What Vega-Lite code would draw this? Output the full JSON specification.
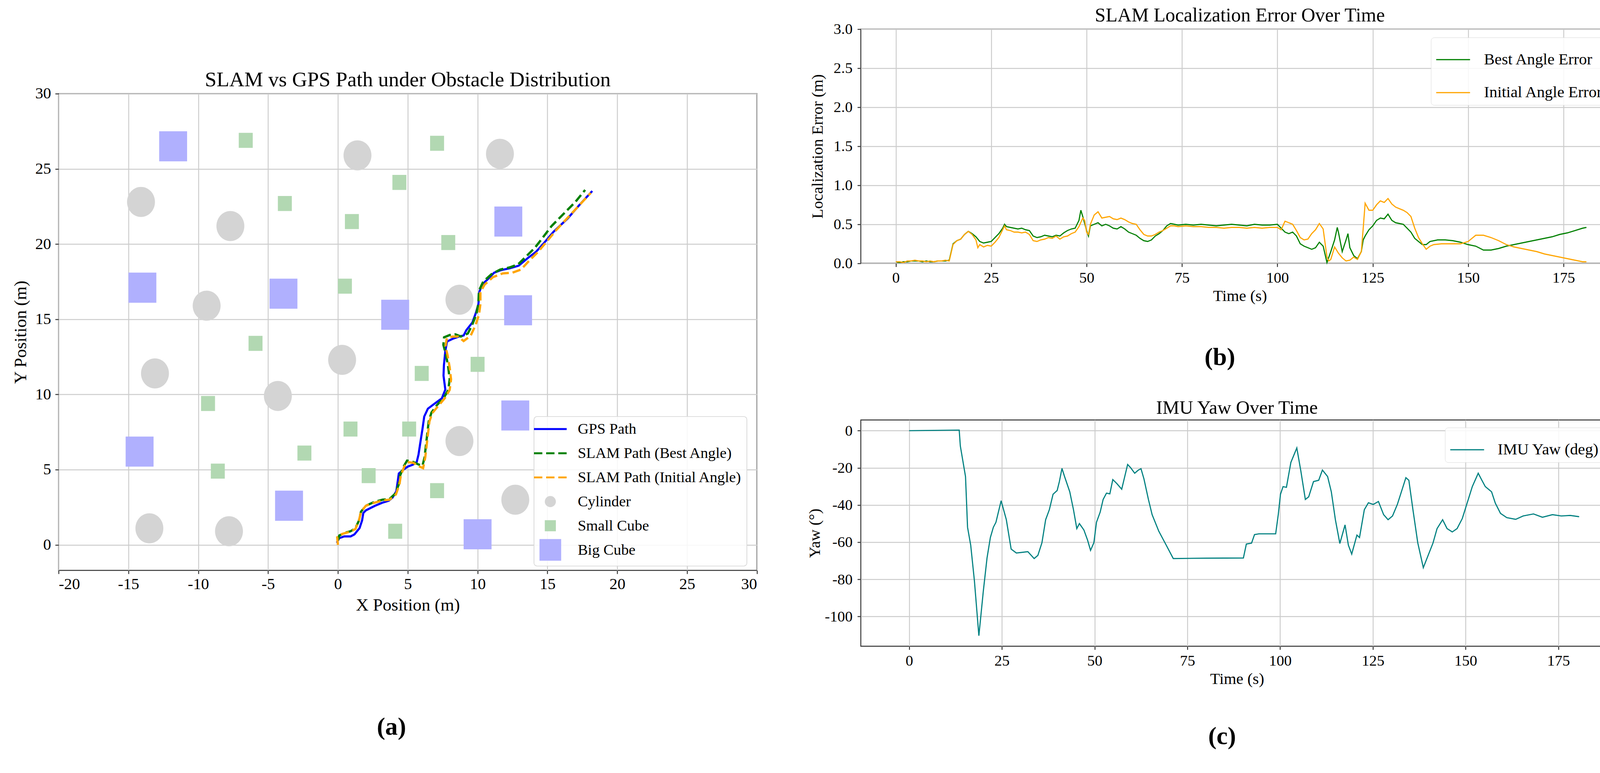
{
  "$schema": "https://vega.github.io/schema/vega-lite/v6.json",
  "padding": {"left": 28, "top": 12.7, "right": 0, "bottom": 0},
  "background": "white",
  "config": {
    "font": "Liberation Serif",
    "view": {"stroke": "#333333", "strokeWidth": 2.4},
    "axis": {"domain": false, "grid": true, "gridColor": "#cccccc", "gridWidth": 2.4, "tickColor": "#333333", "tickSize": 8.8, "tickWidth": 2.4, "labelFont": "Liberation Serif", "labelColor": "#000000", "titleFont": "Liberation Serif", "titleFontWeight": "normal", "titleColor": "#000000", "labelPadding": 12.7},
    "title": {"font": "Liberation Serif", "fontWeight": "normal", "color": "#000000", "anchor": "middle"},
    "legend": {"labelFont": "Liberation Serif", "labelColor": "#000000", "labelLimit": 2000, "fillColor": "rgba(255,255,255,0.85)", "strokeColor": "#d9d9d9", "cornerRadius": 8}
  },
  "resolve": {"scale": {"color": "independent"}, "legend": {"color": "independent"}},
  "spacing": 122.7,
  "datasets": {
    "paths": [
      {"series": "GPS Path", "k": 0, "x": 0.0, "y": 0.1},
      {"series": "GPS Path", "k": 1, "x": -0.05, "y": 0.19},
      {"series": "GPS Path", "k": 2, "x": 0.09, "y": 0.44},
      {"series": "GPS Path", "k": 3, "x": 0.45, "y": 0.56},
      {"series": "GPS Path", "k": 4, "x": 0.91, "y": 0.56},
      {"series": "GPS Path", "k": 5, "x": 1.18, "y": 0.69},
      {"series": "GPS Path", "k": 6, "x": 1.55, "y": 1.11},
      {"series": "GPS Path", "k": 7, "x": 1.73, "y": 1.62},
      {"series": "GPS Path", "k": 8, "x": 1.82, "y": 2.12},
      {"series": "GPS Path", "k": 9, "x": 2.0, "y": 2.29},
      {"series": "GPS Path", "k": 10, "x": 2.64, "y": 2.59},
      {"series": "GPS Path", "k": 11, "x": 3.18, "y": 2.8},
      {"series": "GPS Path", "k": 12, "x": 3.64, "y": 2.93},
      {"series": "GPS Path", "k": 13, "x": 3.91, "y": 3.14},
      {"series": "GPS Path", "k": 14, "x": 4.18, "y": 3.56},
      {"series": "GPS Path", "k": 15, "x": 4.27, "y": 4.15},
      {"series": "GPS Path", "k": 16, "x": 4.36, "y": 4.74},
      {"series": "GPS Path", "k": 17, "x": 4.68, "y": 4.99},
      {"series": "GPS Path", "k": 18, "x": 5.0, "y": 5.2},
      {"series": "GPS Path", "k": 19, "x": 5.36, "y": 5.33},
      {"series": "GPS Path", "k": 20, "x": 5.64, "y": 5.5},
      {"series": "GPS Path", "k": 21, "x": 5.77, "y": 6.0},
      {"series": "GPS Path", "k": 22, "x": 5.91, "y": 6.85},
      {"series": "GPS Path", "k": 23, "x": 6.05, "y": 7.68},
      {"series": "GPS Path", "k": 24, "x": 6.18, "y": 8.53},
      {"series": "GPS Path", "k": 25, "x": 6.44, "y": 9.05},
      {"series": "GPS Path", "k": 26, "x": 6.94, "y": 9.4},
      {"series": "GPS Path", "k": 27, "x": 7.44, "y": 9.74},
      {"series": "GPS Path", "k": 28, "x": 7.69, "y": 10.32},
      {"series": "GPS Path", "k": 29, "x": 7.56, "y": 11.25},
      {"series": "GPS Path", "k": 30, "x": 7.59, "y": 11.95},
      {"series": "GPS Path", "k": 31, "x": 7.69, "y": 12.88},
      {"series": "GPS Path", "k": 32, "x": 7.81, "y": 13.52},
      {"series": "GPS Path", "k": 33, "x": 8.19, "y": 13.69},
      {"series": "GPS Path", "k": 34, "x": 8.69, "y": 13.86},
      {"series": "GPS Path", "k": 35, "x": 9.0, "y": 13.92},
      {"series": "GPS Path", "k": 36, "x": 9.19, "y": 14.27},
      {"series": "GPS Path", "k": 37, "x": 9.63, "y": 14.79},
      {"series": "GPS Path", "k": 38, "x": 9.88, "y": 15.43},
      {"series": "GPS Path", "k": 39, "x": 10.06, "y": 16.01},
      {"series": "GPS Path", "k": 40, "x": 10.13, "y": 16.82},
      {"series": "GPS Path", "k": 41, "x": 10.31, "y": 17.29},
      {"series": "GPS Path", "k": 42, "x": 10.69, "y": 17.63},
      {"series": "GPS Path", "k": 43, "x": 11.19, "y": 18.1},
      {"series": "GPS Path", "k": 44, "x": 11.69, "y": 18.27},
      {"series": "GPS Path", "k": 45, "x": 12.31, "y": 18.39},
      {"series": "GPS Path", "k": 46, "x": 12.94, "y": 18.56},
      {"series": "GPS Path", "k": 47, "x": 13.69, "y": 19.14},
      {"series": "GPS Path", "k": 48, "x": 14.19, "y": 19.49},
      {"series": "GPS Path", "k": 49, "x": 14.69, "y": 20.0},
      {"series": "GPS Path", "k": 50, "x": 15.44, "y": 20.82},
      {"series": "GPS Path", "k": 51, "x": 16.44, "y": 21.69},
      {"series": "GPS Path", "k": 52, "x": 17.31, "y": 22.62},
      {"series": "GPS Path", "k": 53, "x": 18.21, "y": 23.53},
      {"series": "SLAM Path (Best Angle)", "k": 0, "x": 0.0, "y": 0.3},
      {"series": "SLAM Path (Best Angle)", "k": 1, "x": 0.1, "y": 0.62},
      {"series": "SLAM Path (Best Angle)", "k": 2, "x": 0.5, "y": 0.8},
      {"series": "SLAM Path (Best Angle)", "k": 3, "x": 0.9, "y": 0.9},
      {"series": "SLAM Path (Best Angle)", "k": 4, "x": 1.25, "y": 1.1},
      {"series": "SLAM Path (Best Angle)", "k": 5, "x": 1.5, "y": 1.6},
      {"series": "SLAM Path (Best Angle)", "k": 6, "x": 1.65, "y": 2.2},
      {"series": "SLAM Path (Best Angle)", "k": 7, "x": 2.0, "y": 2.6},
      {"series": "SLAM Path (Best Angle)", "k": 8, "x": 2.6, "y": 2.85},
      {"series": "SLAM Path (Best Angle)", "k": 9, "x": 3.2, "y": 3.0},
      {"series": "SLAM Path (Best Angle)", "k": 10, "x": 3.7, "y": 3.05},
      {"series": "SLAM Path (Best Angle)", "k": 11, "x": 4.1, "y": 3.4},
      {"series": "SLAM Path (Best Angle)", "k": 12, "x": 4.35, "y": 4.0},
      {"series": "SLAM Path (Best Angle)", "k": 13, "x": 4.45, "y": 4.6},
      {"series": "SLAM Path (Best Angle)", "k": 14, "x": 4.7, "y": 5.2},
      {"series": "SLAM Path (Best Angle)", "k": 15, "x": 4.95, "y": 5.6},
      {"series": "SLAM Path (Best Angle)", "k": 16, "x": 5.3, "y": 5.55},
      {"series": "SLAM Path (Best Angle)", "k": 17, "x": 5.75, "y": 5.35},
      {"series": "SLAM Path (Best Angle)", "k": 18, "x": 6.05, "y": 5.25},
      {"series": "SLAM Path (Best Angle)", "k": 19, "x": 6.2, "y": 5.8},
      {"series": "SLAM Path (Best Angle)", "k": 20, "x": 6.3, "y": 6.6},
      {"series": "SLAM Path (Best Angle)", "k": 21, "x": 6.4, "y": 7.4},
      {"series": "SLAM Path (Best Angle)", "k": 22, "x": 6.5, "y": 8.2},
      {"series": "SLAM Path (Best Angle)", "k": 23, "x": 6.7, "y": 8.8},
      {"series": "SLAM Path (Best Angle)", "k": 24, "x": 7.1, "y": 9.3},
      {"series": "SLAM Path (Best Angle)", "k": 25, "x": 7.6, "y": 9.8},
      {"series": "SLAM Path (Best Angle)", "k": 26, "x": 7.9, "y": 10.3},
      {"series": "SLAM Path (Best Angle)", "k": 27, "x": 8.0, "y": 11.0},
      {"series": "SLAM Path (Best Angle)", "k": 28, "x": 7.9, "y": 11.8},
      {"series": "SLAM Path (Best Angle)", "k": 29, "x": 7.75, "y": 12.6},
      {"series": "SLAM Path (Best Angle)", "k": 30, "x": 7.55, "y": 13.3},
      {"series": "SLAM Path (Best Angle)", "k": 31, "x": 7.6, "y": 13.8},
      {"series": "SLAM Path (Best Angle)", "k": 32, "x": 8.0, "y": 13.95},
      {"series": "SLAM Path (Best Angle)", "k": 33, "x": 8.4, "y": 14.0},
      {"series": "SLAM Path (Best Angle)", "k": 34, "x": 8.8, "y": 13.85},
      {"series": "SLAM Path (Best Angle)", "k": 35, "x": 9.3, "y": 14.05},
      {"series": "SLAM Path (Best Angle)", "k": 36, "x": 9.6, "y": 14.6},
      {"series": "SLAM Path (Best Angle)", "k": 37, "x": 9.9, "y": 15.3},
      {"series": "SLAM Path (Best Angle)", "k": 38, "x": 10.05, "y": 16.0},
      {"series": "SLAM Path (Best Angle)", "k": 39, "x": 10.1, "y": 16.9},
      {"series": "SLAM Path (Best Angle)", "k": 40, "x": 10.4, "y": 17.5},
      {"series": "SLAM Path (Best Angle)", "k": 41, "x": 11.0, "y": 18.0},
      {"series": "SLAM Path (Best Angle)", "k": 42, "x": 11.6, "y": 18.3},
      {"series": "SLAM Path (Best Angle)", "k": 43, "x": 12.3, "y": 18.45},
      {"series": "SLAM Path (Best Angle)", "k": 44, "x": 12.9, "y": 18.65},
      {"series": "SLAM Path (Best Angle)", "k": 45, "x": 13.5, "y": 19.2},
      {"series": "SLAM Path (Best Angle)", "k": 46, "x": 14.1, "y": 19.75},
      {"series": "SLAM Path (Best Angle)", "k": 47, "x": 14.6, "y": 20.35},
      {"series": "SLAM Path (Best Angle)", "k": 48, "x": 15.3, "y": 21.2},
      {"series": "SLAM Path (Best Angle)", "k": 49, "x": 16.2, "y": 22.05},
      {"series": "SLAM Path (Best Angle)", "k": 50, "x": 17.0, "y": 22.8},
      {"series": "SLAM Path (Best Angle)", "k": 51, "x": 17.7, "y": 23.6},
      {"series": "SLAM Path (Initial Angle)", "k": 0, "x": 0.0, "y": 0.0},
      {"series": "SLAM Path (Initial Angle)", "k": 1, "x": -0.05, "y": 0.5},
      {"series": "SLAM Path (Initial Angle)", "k": 2, "x": 0.3, "y": 0.72},
      {"series": "SLAM Path (Initial Angle)", "k": 3, "x": 0.9, "y": 0.88},
      {"series": "SLAM Path (Initial Angle)", "k": 4, "x": 1.25, "y": 1.05},
      {"series": "SLAM Path (Initial Angle)", "k": 5, "x": 1.5, "y": 1.6},
      {"series": "SLAM Path (Initial Angle)", "k": 6, "x": 1.65, "y": 2.2},
      {"series": "SLAM Path (Initial Angle)", "k": 7, "x": 2.0, "y": 2.6},
      {"series": "SLAM Path (Initial Angle)", "k": 8, "x": 2.6, "y": 2.8},
      {"series": "SLAM Path (Initial Angle)", "k": 9, "x": 3.2, "y": 2.95},
      {"series": "SLAM Path (Initial Angle)", "k": 10, "x": 3.7, "y": 3.0},
      {"series": "SLAM Path (Initial Angle)", "k": 11, "x": 4.15, "y": 3.35},
      {"series": "SLAM Path (Initial Angle)", "k": 12, "x": 4.4, "y": 4.0},
      {"series": "SLAM Path (Initial Angle)", "k": 13, "x": 4.5, "y": 4.6},
      {"series": "SLAM Path (Initial Angle)", "k": 14, "x": 4.75, "y": 5.2},
      {"series": "SLAM Path (Initial Angle)", "k": 15, "x": 5.0, "y": 5.5},
      {"series": "SLAM Path (Initial Angle)", "k": 16, "x": 5.4, "y": 5.45},
      {"series": "SLAM Path (Initial Angle)", "k": 17, "x": 5.85, "y": 5.2},
      {"series": "SLAM Path (Initial Angle)", "k": 18, "x": 6.1, "y": 5.1},
      {"series": "SLAM Path (Initial Angle)", "k": 19, "x": 6.25, "y": 5.8},
      {"series": "SLAM Path (Initial Angle)", "k": 20, "x": 6.35, "y": 6.6},
      {"series": "SLAM Path (Initial Angle)", "k": 21, "x": 6.45, "y": 7.4},
      {"series": "SLAM Path (Initial Angle)", "k": 22, "x": 6.55, "y": 8.2},
      {"series": "SLAM Path (Initial Angle)", "k": 23, "x": 6.75, "y": 8.75},
      {"series": "SLAM Path (Initial Angle)", "k": 24, "x": 7.15, "y": 9.2},
      {"series": "SLAM Path (Initial Angle)", "k": 25, "x": 7.65, "y": 9.75},
      {"series": "SLAM Path (Initial Angle)", "k": 26, "x": 8.0, "y": 10.3},
      {"series": "SLAM Path (Initial Angle)", "k": 27, "x": 8.1, "y": 11.0},
      {"series": "SLAM Path (Initial Angle)", "k": 28, "x": 8.0, "y": 11.8},
      {"series": "SLAM Path (Initial Angle)", "k": 29, "x": 7.85, "y": 12.6},
      {"series": "SLAM Path (Initial Angle)", "k": 30, "x": 7.7, "y": 13.2},
      {"series": "SLAM Path (Initial Angle)", "k": 31, "x": 7.8, "y": 13.75},
      {"series": "SLAM Path (Initial Angle)", "k": 32, "x": 8.2, "y": 13.85},
      {"series": "SLAM Path (Initial Angle)", "k": 33, "x": 8.6, "y": 13.85},
      {"series": "SLAM Path (Initial Angle)", "k": 34, "x": 9.0, "y": 13.55},
      {"series": "SLAM Path (Initial Angle)", "k": 35, "x": 9.5, "y": 13.9},
      {"series": "SLAM Path (Initial Angle)", "k": 36, "x": 9.85, "y": 14.6},
      {"series": "SLAM Path (Initial Angle)", "k": 37, "x": 10.1, "y": 15.3},
      {"series": "SLAM Path (Initial Angle)", "k": 38, "x": 10.2, "y": 16.0},
      {"series": "SLAM Path (Initial Angle)", "k": 39, "x": 10.2, "y": 16.8},
      {"series": "SLAM Path (Initial Angle)", "k": 40, "x": 10.5, "y": 17.3},
      {"series": "SLAM Path (Initial Angle)", "k": 41, "x": 11.1, "y": 17.8},
      {"series": "SLAM Path (Initial Angle)", "k": 42, "x": 11.8, "y": 18.05},
      {"series": "SLAM Path (Initial Angle)", "k": 43, "x": 12.5, "y": 18.1},
      {"series": "SLAM Path (Initial Angle)", "k": 44, "x": 13.1, "y": 18.3},
      {"series": "SLAM Path (Initial Angle)", "k": 45, "x": 13.7, "y": 18.9},
      {"series": "SLAM Path (Initial Angle)", "k": 46, "x": 14.3, "y": 19.45},
      {"series": "SLAM Path (Initial Angle)", "k": 47, "x": 14.8, "y": 20.0},
      {"series": "SLAM Path (Initial Angle)", "k": 48, "x": 15.6, "y": 20.9},
      {"series": "SLAM Path (Initial Angle)", "k": 49, "x": 16.5, "y": 21.8},
      {"series": "SLAM Path (Initial Angle)", "k": 50, "x": 17.3, "y": 22.6},
      {"series": "SLAM Path (Initial Angle)", "k": 51, "x": 18.1, "y": 23.4}
    ],
    "obstacles": [
      {"series": "Big Cube", "x": -11.8, "y": 26.5},
      {"series": "Big Cube", "x": 12.2, "y": 21.5},
      {"series": "Big Cube", "x": -14.0, "y": 17.1},
      {"series": "Big Cube", "x": -3.9, "y": 16.7},
      {"series": "Big Cube", "x": 4.1, "y": 15.3},
      {"series": "Big Cube", "x": 12.9, "y": 15.6},
      {"series": "Big Cube", "x": 12.7, "y": 8.6},
      {"series": "Big Cube", "x": -14.2, "y": 6.2},
      {"series": "Big Cube", "x": -3.5, "y": 2.6},
      {"series": "Big Cube", "x": 10.0, "y": 0.7},
      {"series": "Cylinder", "x": -14.1, "y": 22.8},
      {"series": "Cylinder", "x": -7.7, "y": 21.2},
      {"series": "Cylinder", "x": 1.4, "y": 25.9},
      {"series": "Cylinder", "x": 11.6, "y": 26.0},
      {"series": "Cylinder", "x": -9.4, "y": 15.9},
      {"series": "Cylinder", "x": 8.7, "y": 16.3},
      {"series": "Cylinder", "x": -13.1, "y": 11.4},
      {"series": "Cylinder", "x": 0.3, "y": 12.3},
      {"series": "Cylinder", "x": -4.3, "y": 9.9},
      {"series": "Cylinder", "x": 8.7, "y": 6.9},
      {"series": "Cylinder", "x": 12.7, "y": 3.0},
      {"series": "Cylinder", "x": -13.5, "y": 1.1},
      {"series": "Cylinder", "x": -7.8, "y": 0.9},
      {"series": "Small Cube", "x": -6.6, "y": 26.9},
      {"series": "Small Cube", "x": 7.1, "y": 26.7},
      {"series": "Small Cube", "x": 4.4, "y": 24.1},
      {"series": "Small Cube", "x": -3.8, "y": 22.7},
      {"series": "Small Cube", "x": 1.0, "y": 21.5},
      {"series": "Small Cube", "x": 7.9, "y": 20.1},
      {"series": "Small Cube", "x": 0.5, "y": 17.2},
      {"series": "Small Cube", "x": -5.9, "y": 13.4},
      {"series": "Small Cube", "x": 6.0, "y": 11.4},
      {"series": "Small Cube", "x": 10.0, "y": 12.0},
      {"series": "Small Cube", "x": -9.3, "y": 9.4},
      {"series": "Small Cube", "x": 0.9, "y": 7.7},
      {"series": "Small Cube", "x": 5.1, "y": 7.7},
      {"series": "Small Cube", "x": -2.4, "y": 6.1},
      {"series": "Small Cube", "x": -8.6, "y": 4.9},
      {"series": "Small Cube", "x": 2.2, "y": 4.6},
      {"series": "Small Cube", "x": 7.1, "y": 3.6},
      {"series": "Small Cube", "x": 4.1, "y": 0.9}
    ],
    "err": [
      {"es": "Best Angle Error", "t": 0, "e": 0.02}, {"es": "Best Angle Error", "t": 1, "e": 0.01}, {"es": "Best Angle Error", "t": 2, "e": 0.02}, {"es": "Best Angle Error", "t": 3, "e": 0.02}, {"es": "Best Angle Error", "t": 4, "e": 0.03}, {"es": "Best Angle Error", "t": 5, "e": 0.03}, {"es": "Best Angle Error", "t": 6, "e": 0.03}, {"es": "Best Angle Error", "t": 7, "e": 0.02}, {"es": "Best Angle Error", "t": 8, "e": 0.03}, {"es": "Best Angle Error", "t": 9, "e": 0.02}, {"es": "Best Angle Error", "t": 10, "e": 0.02}, {"es": "Best Angle Error", "t": 11, "e": 0.03}, {"es": "Best Angle Error", "t": 12, "e": 0.03}, {"es": "Best Angle Error", "t": 13, "e": 0.03}, {"es": "Best Angle Error", "t": 14, "e": 0.04},
      {"es": "Best Angle Error", "t": 15, "e": 0.25}, {"es": "Best Angle Error", "t": 16, "e": 0.29}, {"es": "Best Angle Error", "t": 17, "e": 0.31}, {"es": "Best Angle Error", "t": 18, "e": 0.37}, {"es": "Best Angle Error", "t": 19, "e": 0.41}, {"es": "Best Angle Error", "t": 20, "e": 0.38}, {"es": "Best Angle Error", "t": 21, "e": 0.34}, {"es": "Best Angle Error", "t": 22, "e": 0.28}, {"es": "Best Angle Error", "t": 23, "e": 0.26}, {"es": "Best Angle Error", "t": 24, "e": 0.27}, {"es": "Best Angle Error", "t": 25, "e": 0.28}, {"es": "Best Angle Error", "t": 26, "e": 0.33}, {"es": "Best Angle Error", "t": 27, "e": 0.38}, {"es": "Best Angle Error", "t": 28, "e": 0.45}, {"es": "Best Angle Error", "t": 28.5, "e": 0.5}, {"es": "Best Angle Error", "t": 29, "e": 0.47}, {"es": "Best Angle Error", "t": 30, "e": 0.46}, {"es": "Best Angle Error", "t": 31, "e": 0.45}, {"es": "Best Angle Error", "t": 32, "e": 0.44}, {"es": "Best Angle Error", "t": 33, "e": 0.45}, {"es": "Best Angle Error", "t": 34, "e": 0.43}, {"es": "Best Angle Error", "t": 35, "e": 0.42}, {"es": "Best Angle Error", "t": 36, "e": 0.35}, {"es": "Best Angle Error", "t": 37, "e": 0.33}, {"es": "Best Angle Error", "t": 38, "e": 0.34}, {"es": "Best Angle Error", "t": 39, "e": 0.36}, {"es": "Best Angle Error", "t": 40, "e": 0.35}, {"es": "Best Angle Error", "t": 41, "e": 0.34}, {"es": "Best Angle Error", "t": 42, "e": 0.36}, {"es": "Best Angle Error", "t": 43, "e": 0.35}, {"es": "Best Angle Error", "t": 44, "e": 0.39}, {"es": "Best Angle Error", "t": 45, "e": 0.42}, {"es": "Best Angle Error", "t": 46, "e": 0.44}, {"es": "Best Angle Error", "t": 47, "e": 0.45}, {"es": "Best Angle Error", "t": 48, "e": 0.55}, {"es": "Best Angle Error", "t": 48.5, "e": 0.68}, {"es": "Best Angle Error", "t": 49, "e": 0.6}, {"es": "Best Angle Error", "t": 50, "e": 0.42}, {"es": "Best Angle Error", "t": 50.5, "e": 0.35}, {"es": "Best Angle Error", "t": 51, "e": 0.48}, {"es": "Best Angle Error", "t": 52, "e": 0.5}, {"es": "Best Angle Error", "t": 53, "e": 0.52}, {"es": "Best Angle Error", "t": 54, "e": 0.48}, {"es": "Best Angle Error", "t": 55, "e": 0.5}, {"es": "Best Angle Error", "t": 56, "e": 0.48}, {"es": "Best Angle Error", "t": 57, "e": 0.45}, {"es": "Best Angle Error", "t": 58, "e": 0.44}, {"es": "Best Angle Error", "t": 59, "e": 0.47}, {"es": "Best Angle Error", "t": 60, "e": 0.44}, {"es": "Best Angle Error", "t": 61, "e": 0.4}, {"es": "Best Angle Error", "t": 62, "e": 0.38}, {"es": "Best Angle Error", "t": 63, "e": 0.36}, {"es": "Best Angle Error", "t": 64, "e": 0.32}, {"es": "Best Angle Error", "t": 65, "e": 0.29}, {"es": "Best Angle Error", "t": 66, "e": 0.28}, {"es": "Best Angle Error", "t": 67, "e": 0.3}, {"es": "Best Angle Error", "t": 68, "e": 0.35}, {"es": "Best Angle Error", "t": 69, "e": 0.38}, {"es": "Best Angle Error", "t": 70, "e": 0.42}, {"es": "Best Angle Error", "t": 71, "e": 0.48}, {"es": "Best Angle Error", "t": 72, "e": 0.51}, {"es": "Best Angle Error", "t": 73, "e": 0.5}, {"es": "Best Angle Error", "t": 74, "e": 0.49}, {"es": "Best Angle Error", "t": 76, "e": 0.5}, {"es": "Best Angle Error", "t": 78, "e": 0.49}, {"es": "Best Angle Error", "t": 80, "e": 0.5}, {"es": "Best Angle Error", "t": 82, "e": 0.49}, {"es": "Best Angle Error", "t": 84, "e": 0.48}, {"es": "Best Angle Error", "t": 86, "e": 0.49}, {"es": "Best Angle Error", "t": 88, "e": 0.5}, {"es": "Best Angle Error", "t": 90, "e": 0.49}, {"es": "Best Angle Error", "t": 92, "e": 0.48}, {"es": "Best Angle Error", "t": 94, "e": 0.5}, {"es": "Best Angle Error", "t": 96, "e": 0.49}, {"es": "Best Angle Error", "t": 98, "e": 0.49}, {"es": "Best Angle Error", "t": 100, "e": 0.5},
      {"es": "Best Angle Error", "t": 101, "e": 0.45}, {"es": "Best Angle Error", "t": 102, "e": 0.4}, {"es": "Best Angle Error", "t": 103, "e": 0.38}, {"es": "Best Angle Error", "t": 104, "e": 0.4}, {"es": "Best Angle Error", "t": 105, "e": 0.35}, {"es": "Best Angle Error", "t": 106, "e": 0.25}, {"es": "Best Angle Error", "t": 107, "e": 0.22}, {"es": "Best Angle Error", "t": 108, "e": 0.2}, {"es": "Best Angle Error", "t": 109, "e": 0.18}, {"es": "Best Angle Error", "t": 110, "e": 0.2}, {"es": "Best Angle Error", "t": 111, "e": 0.27}, {"es": "Best Angle Error", "t": 112, "e": 0.22}, {"es": "Best Angle Error", "t": 113, "e": 0.01}, {"es": "Best Angle Error", "t": 114, "e": 0.15}, {"es": "Best Angle Error", "t": 115, "e": 0.3}, {"es": "Best Angle Error", "t": 115.7, "e": 0.46}, {"es": "Best Angle Error", "t": 116, "e": 0.4}, {"es": "Best Angle Error", "t": 117, "e": 0.15}, {"es": "Best Angle Error", "t": 118, "e": 0.3}, {"es": "Best Angle Error", "t": 118.5, "e": 0.38}, {"es": "Best Angle Error", "t": 119, "e": 0.2}, {"es": "Best Angle Error", "t": 120, "e": 0.1}, {"es": "Best Angle Error", "t": 121, "e": 0.06}, {"es": "Best Angle Error", "t": 122, "e": 0.15}, {"es": "Best Angle Error", "t": 122.5, "e": 0.3}, {"es": "Best Angle Error", "t": 123, "e": 0.35}, {"es": "Best Angle Error", "t": 124, "e": 0.43}, {"es": "Best Angle Error", "t": 125, "e": 0.48}, {"es": "Best Angle Error", "t": 126, "e": 0.55}, {"es": "Best Angle Error", "t": 127, "e": 0.58}, {"es": "Best Angle Error", "t": 128, "e": 0.57}, {"es": "Best Angle Error", "t": 129, "e": 0.63}, {"es": "Best Angle Error", "t": 130, "e": 0.55}, {"es": "Best Angle Error", "t": 131, "e": 0.52}, {"es": "Best Angle Error", "t": 132, "e": 0.51}, {"es": "Best Angle Error", "t": 133, "e": 0.5}, {"es": "Best Angle Error", "t": 134, "e": 0.45}, {"es": "Best Angle Error", "t": 135, "e": 0.4}, {"es": "Best Angle Error", "t": 136, "e": 0.32}, {"es": "Best Angle Error", "t": 137, "e": 0.28}, {"es": "Best Angle Error", "t": 138, "e": 0.24}, {"es": "Best Angle Error", "t": 139, "e": 0.24}, {"es": "Best Angle Error", "t": 140, "e": 0.28}, {"es": "Best Angle Error", "t": 142, "e": 0.3}, {"es": "Best Angle Error", "t": 144, "e": 0.3}, {"es": "Best Angle Error", "t": 146, "e": 0.29}, {"es": "Best Angle Error", "t": 148, "e": 0.27}, {"es": "Best Angle Error", "t": 150, "e": 0.24}, {"es": "Best Angle Error", "t": 152, "e": 0.22}, {"es": "Best Angle Error", "t": 154, "e": 0.17}, {"es": "Best Angle Error", "t": 156, "e": 0.17}, {"es": "Best Angle Error", "t": 158, "e": 0.19}, {"es": "Best Angle Error", "t": 160, "e": 0.22}, {"es": "Best Angle Error", "t": 162, "e": 0.24}, {"es": "Best Angle Error", "t": 164, "e": 0.26}, {"es": "Best Angle Error", "t": 166, "e": 0.28}, {"es": "Best Angle Error", "t": 168, "e": 0.3}, {"es": "Best Angle Error", "t": 170, "e": 0.32}, {"es": "Best Angle Error", "t": 172, "e": 0.34}, {"es": "Best Angle Error", "t": 174, "e": 0.37}, {"es": "Best Angle Error", "t": 176, "e": 0.39}, {"es": "Best Angle Error", "t": 178, "e": 0.42}, {"es": "Best Angle Error", "t": 180, "e": 0.45}, {"es": "Best Angle Error", "t": 181, "e": 0.46},
      {"es": "Initial Angle Error", "t": 0, "e": 0.02}, {"es": "Initial Angle Error", "t": 1, "e": 0.02}, {"es": "Initial Angle Error", "t": 2, "e": 0.01}, {"es": "Initial Angle Error", "t": 3, "e": 0.03}, {"es": "Initial Angle Error", "t": 4, "e": 0.03}, {"es": "Initial Angle Error", "t": 5, "e": 0.04}, {"es": "Initial Angle Error", "t": 6, "e": 0.03}, {"es": "Initial Angle Error", "t": 7, "e": 0.03}, {"es": "Initial Angle Error", "t": 8, "e": 0.02}, {"es": "Initial Angle Error", "t": 9, "e": 0.03}, {"es": "Initial Angle Error", "t": 10, "e": 0.02}, {"es": "Initial Angle Error", "t": 11, "e": 0.03}, {"es": "Initial Angle Error", "t": 12, "e": 0.03}, {"es": "Initial Angle Error", "t": 13, "e": 0.04}, {"es": "Initial Angle Error", "t": 14, "e": 0.03},
      {"es": "Initial Angle Error", "t": 15, "e": 0.24}, {"es": "Initial Angle Error", "t": 16, "e": 0.29}, {"es": "Initial Angle Error", "t": 17, "e": 0.31}, {"es": "Initial Angle Error", "t": 18, "e": 0.37}, {"es": "Initial Angle Error", "t": 19, "e": 0.41}, {"es": "Initial Angle Error", "t": 20, "e": 0.37}, {"es": "Initial Angle Error", "t": 21, "e": 0.3}, {"es": "Initial Angle Error", "t": 21.5, "e": 0.2}, {"es": "Initial Angle Error", "t": 22, "e": 0.24}, {"es": "Initial Angle Error", "t": 23, "e": 0.21}, {"es": "Initial Angle Error", "t": 24, "e": 0.23}, {"es": "Initial Angle Error", "t": 25, "e": 0.22}, {"es": "Initial Angle Error", "t": 26, "e": 0.27}, {"es": "Initial Angle Error", "t": 27, "e": 0.33}, {"es": "Initial Angle Error", "t": 28, "e": 0.43}, {"es": "Initial Angle Error", "t": 28.5, "e": 0.48}, {"es": "Initial Angle Error", "t": 29, "e": 0.43}, {"es": "Initial Angle Error", "t": 30, "e": 0.42}, {"es": "Initial Angle Error", "t": 31, "e": 0.4}, {"es": "Initial Angle Error", "t": 32, "e": 0.4}, {"es": "Initial Angle Error", "t": 33, "e": 0.39}, {"es": "Initial Angle Error", "t": 34, "e": 0.4}, {"es": "Initial Angle Error", "t": 35, "e": 0.37}, {"es": "Initial Angle Error", "t": 36, "e": 0.29}, {"es": "Initial Angle Error", "t": 37, "e": 0.28}, {"es": "Initial Angle Error", "t": 38, "e": 0.3}, {"es": "Initial Angle Error", "t": 39, "e": 0.31}, {"es": "Initial Angle Error", "t": 40, "e": 0.33}, {"es": "Initial Angle Error", "t": 41, "e": 0.32}, {"es": "Initial Angle Error", "t": 42, "e": 0.35}, {"es": "Initial Angle Error", "t": 43, "e": 0.31}, {"es": "Initial Angle Error", "t": 44, "e": 0.34}, {"es": "Initial Angle Error", "t": 45, "e": 0.35}, {"es": "Initial Angle Error", "t": 46, "e": 0.38}, {"es": "Initial Angle Error", "t": 47, "e": 0.4}, {"es": "Initial Angle Error", "t": 48, "e": 0.47}, {"es": "Initial Angle Error", "t": 49, "e": 0.58}, {"es": "Initial Angle Error", "t": 49.5, "e": 0.55}, {"es": "Initial Angle Error", "t": 50, "e": 0.4}, {"es": "Initial Angle Error", "t": 50.5, "e": 0.37}, {"es": "Initial Angle Error", "t": 51, "e": 0.5}, {"es": "Initial Angle Error", "t": 52, "e": 0.62}, {"es": "Initial Angle Error", "t": 53, "e": 0.66}, {"es": "Initial Angle Error", "t": 54, "e": 0.58}, {"es": "Initial Angle Error", "t": 55, "e": 0.59}, {"es": "Initial Angle Error", "t": 56, "e": 0.6}, {"es": "Initial Angle Error", "t": 57, "e": 0.57}, {"es": "Initial Angle Error", "t": 58, "e": 0.56}, {"es": "Initial Angle Error", "t": 59, "e": 0.58}, {"es": "Initial Angle Error", "t": 60, "e": 0.56}, {"es": "Initial Angle Error", "t": 61, "e": 0.53}, {"es": "Initial Angle Error", "t": 62, "e": 0.51}, {"es": "Initial Angle Error", "t": 63, "e": 0.5}, {"es": "Initial Angle Error", "t": 64, "e": 0.43}, {"es": "Initial Angle Error", "t": 65, "e": 0.37}, {"es": "Initial Angle Error", "t": 66, "e": 0.35}, {"es": "Initial Angle Error", "t": 67, "e": 0.35}, {"es": "Initial Angle Error", "t": 68, "e": 0.37}, {"es": "Initial Angle Error", "t": 69, "e": 0.4}, {"es": "Initial Angle Error", "t": 70, "e": 0.42}, {"es": "Initial Angle Error", "t": 71, "e": 0.45}, {"es": "Initial Angle Error", "t": 72, "e": 0.48}, {"es": "Initial Angle Error", "t": 73, "e": 0.48}, {"es": "Initial Angle Error", "t": 74, "e": 0.47}, {"es": "Initial Angle Error", "t": 76, "e": 0.48}, {"es": "Initial Angle Error", "t": 78, "e": 0.47}, {"es": "Initial Angle Error", "t": 80, "e": 0.47}, {"es": "Initial Angle Error", "t": 82, "e": 0.46}, {"es": "Initial Angle Error", "t": 84, "e": 0.46}, {"es": "Initial Angle Error", "t": 86, "e": 0.45}, {"es": "Initial Angle Error", "t": 88, "e": 0.46}, {"es": "Initial Angle Error", "t": 90, "e": 0.46}, {"es": "Initial Angle Error", "t": 92, "e": 0.45}, {"es": "Initial Angle Error", "t": 94, "e": 0.46}, {"es": "Initial Angle Error", "t": 96, "e": 0.45}, {"es": "Initial Angle Error", "t": 98, "e": 0.46}, {"es": "Initial Angle Error", "t": 100, "e": 0.46},
      {"es": "Initial Angle Error", "t": 101, "e": 0.43}, {"es": "Initial Angle Error", "t": 102, "e": 0.54}, {"es": "Initial Angle Error", "t": 103, "e": 0.52}, {"es": "Initial Angle Error", "t": 104, "e": 0.5}, {"es": "Initial Angle Error", "t": 105, "e": 0.42}, {"es": "Initial Angle Error", "t": 106, "e": 0.33}, {"es": "Initial Angle Error", "t": 107, "e": 0.3}, {"es": "Initial Angle Error", "t": 108, "e": 0.31}, {"es": "Initial Angle Error", "t": 109, "e": 0.38}, {"es": "Initial Angle Error", "t": 110, "e": 0.43}, {"es": "Initial Angle Error", "t": 111, "e": 0.51}, {"es": "Initial Angle Error", "t": 112, "e": 0.44}, {"es": "Initial Angle Error", "t": 113, "e": 0.08}, {"es": "Initial Angle Error", "t": 113.5, "e": 0.03}, {"es": "Initial Angle Error", "t": 114, "e": 0.05}, {"es": "Initial Angle Error", "t": 115, "e": 0.21}, {"es": "Initial Angle Error", "t": 116, "e": 0.13}, {"es": "Initial Angle Error", "t": 117, "e": 0.07}, {"es": "Initial Angle Error", "t": 118, "e": 0.03}, {"es": "Initial Angle Error", "t": 119, "e": 0.04}, {"es": "Initial Angle Error", "t": 120, "e": 0.08}, {"es": "Initial Angle Error", "t": 121, "e": 0.05}, {"es": "Initial Angle Error", "t": 122, "e": 0.15}, {"es": "Initial Angle Error", "t": 122.5, "e": 0.45}, {"es": "Initial Angle Error", "t": 123, "e": 0.77}, {"es": "Initial Angle Error", "t": 124, "e": 0.68}, {"es": "Initial Angle Error", "t": 125, "e": 0.68}, {"es": "Initial Angle Error", "t": 126, "e": 0.75}, {"es": "Initial Angle Error", "t": 127, "e": 0.8}, {"es": "Initial Angle Error", "t": 128, "e": 0.78}, {"es": "Initial Angle Error", "t": 129, "e": 0.83}, {"es": "Initial Angle Error", "t": 130, "e": 0.76}, {"es": "Initial Angle Error", "t": 131, "e": 0.72}, {"es": "Initial Angle Error", "t": 132, "e": 0.7}, {"es": "Initial Angle Error", "t": 133, "e": 0.68}, {"es": "Initial Angle Error", "t": 134, "e": 0.65}, {"es": "Initial Angle Error", "t": 135, "e": 0.6}, {"es": "Initial Angle Error", "t": 136, "e": 0.45}, {"es": "Initial Angle Error", "t": 137, "e": 0.33}, {"es": "Initial Angle Error", "t": 138, "e": 0.25}, {"es": "Initial Angle Error", "t": 139, "e": 0.18}, {"es": "Initial Angle Error", "t": 140, "e": 0.22}, {"es": "Initial Angle Error", "t": 141, "e": 0.24}, {"es": "Initial Angle Error", "t": 143, "e": 0.25}, {"es": "Initial Angle Error", "t": 145, "e": 0.25}, {"es": "Initial Angle Error", "t": 148, "e": 0.25}, {"es": "Initial Angle Error", "t": 150, "e": 0.28}, {"es": "Initial Angle Error", "t": 152, "e": 0.36}, {"es": "Initial Angle Error", "t": 154, "e": 0.36}, {"es": "Initial Angle Error", "t": 156, "e": 0.33}, {"es": "Initial Angle Error", "t": 158, "e": 0.29}, {"es": "Initial Angle Error", "t": 160, "e": 0.24}, {"es": "Initial Angle Error", "t": 162, "e": 0.21}, {"es": "Initial Angle Error", "t": 164, "e": 0.19}, {"es": "Initial Angle Error", "t": 166, "e": 0.17}, {"es": "Initial Angle Error", "t": 168, "e": 0.15}, {"es": "Initial Angle Error", "t": 170, "e": 0.12}, {"es": "Initial Angle Error", "t": 172, "e": 0.1}, {"es": "Initial Angle Error", "t": 174, "e": 0.08}, {"es": "Initial Angle Error", "t": 176, "e": 0.06}, {"es": "Initial Angle Error", "t": 178, "e": 0.04}, {"es": "Initial Angle Error", "t": 180, "e": 0.02}, {"es": "Initial Angle Error", "t": 181, "e": 0.02}
    ],
    "yaw": [
      {"ys": "IMU Yaw (deg)", "t": 0, "yaw": 0}, {"ys": "IMU Yaw (deg)", "t": 13.5, "yaw": 0.3}, {"ys": "IMU Yaw (deg)", "t": 13.8, "yaw": -8.2}, {"ys": "IMU Yaw (deg)", "t": 15.2, "yaw": -24.7}, {"ys": "IMU Yaw (deg)", "t": 15.75, "yaw": -52}, {"ys": "IMU Yaw (deg)", "t": 16.6, "yaw": -61.6}, {"ys": "IMU Yaw (deg)", "t": 17.6, "yaw": -80.8}, {"ys": "IMU Yaw (deg)", "t": 18.8, "yaw": -110.3}, {"ys": "IMU Yaw (deg)", "t": 20.0, "yaw": -86.3}, {"ys": "IMU Yaw (deg)", "t": 21.0, "yaw": -68.5}, {"ys": "IMU Yaw (deg)", "t": 21.9, "yaw": -57.5}, {"ys": "IMU Yaw (deg)", "t": 22.7, "yaw": -52}, {"ys": "IMU Yaw (deg)", "t": 23.4, "yaw": -49.3}, {"ys": "IMU Yaw (deg)", "t": 24.8, "yaw": -37.7}, {"ys": "IMU Yaw (deg)", "t": 26.2, "yaw": -47.9}, {"ys": "IMU Yaw (deg)", "t": 27.5, "yaw": -63.7}, {"ys": "IMU Yaw (deg)", "t": 28.9, "yaw": -65.8}, {"ys": "IMU Yaw (deg)", "t": 30.3, "yaw": -65.5}, {"ys": "IMU Yaw (deg)", "t": 32.0, "yaw": -65.1}, {"ys": "IMU Yaw (deg)", "t": 33.7, "yaw": -68.8}, {"ys": "IMU Yaw (deg)", "t": 34.7, "yaw": -67.1}, {"ys": "IMU Yaw (deg)", "t": 35.8, "yaw": -60.3}, {"ys": "IMU Yaw (deg)", "t": 36.8, "yaw": -47.9}, {"ys": "IMU Yaw (deg)", "t": 37.8, "yaw": -42.5}, {"ys": "IMU Yaw (deg)", "t": 38.8, "yaw": -34.2}, {"ys": "IMU Yaw (deg)", "t": 39.9, "yaw": -32.2}, {"ys": "IMU Yaw (deg)", "t": 40.5, "yaw": -27.4}, {"ys": "IMU Yaw (deg)", "t": 41.2, "yaw": -20.3}, {"ys": "IMU Yaw (deg)", "t": 41.9, "yaw": -24.7}, {"ys": "IMU Yaw (deg)", "t": 43.3, "yaw": -32.9}, {"ys": "IMU Yaw (deg)", "t": 44.3, "yaw": -42.5}, {"ys": "IMU Yaw (deg)", "t": 45.2, "yaw": -52.7}, {"ys": "IMU Yaw (deg)", "t": 45.9, "yaw": -50}, {"ys": "IMU Yaw (deg)", "t": 47.1, "yaw": -53.4}, {"ys": "IMU Yaw (deg)", "t": 48.1, "yaw": -58.9}, {"ys": "IMU Yaw (deg)", "t": 48.9, "yaw": -64.4}, {"ys": "IMU Yaw (deg)", "t": 49.8, "yaw": -60.3}, {"ys": "IMU Yaw (deg)", "t": 50.5, "yaw": -49.3}, {"ys": "IMU Yaw (deg)", "t": 51.5, "yaw": -43.8}, {"ys": "IMU Yaw (deg)", "t": 52.3, "yaw": -37}, {"ys": "IMU Yaw (deg)", "t": 53.2, "yaw": -33.6}, {"ys": "IMU Yaw (deg)", "t": 54.1, "yaw": -34}, {"ys": "IMU Yaw (deg)", "t": 54.9, "yaw": -26.3}, {"ys": "IMU Yaw (deg)", "t": 56.0, "yaw": -28.5}, {"ys": "IMU Yaw (deg)", "t": 57.3, "yaw": -31.5}, {"ys": "IMU Yaw (deg)", "t": 58.9, "yaw": -18.2}, {"ys": "IMU Yaw (deg)", "t": 59.7, "yaw": -19.9}, {"ys": "IMU Yaw (deg)", "t": 60.8, "yaw": -22.9}, {"ys": "IMU Yaw (deg)", "t": 61.8, "yaw": -21.2}, {"ys": "IMU Yaw (deg)", "t": 62.5, "yaw": -20.5}, {"ys": "IMU Yaw (deg)", "t": 63.3, "yaw": -26}, {"ys": "IMU Yaw (deg)", "t": 64.5, "yaw": -37}, {"ys": "IMU Yaw (deg)", "t": 65.5, "yaw": -45.2}, {"ys": "IMU Yaw (deg)", "t": 67.3, "yaw": -54.1}, {"ys": "IMU Yaw (deg)", "t": 69.3, "yaw": -61.6}, {"ys": "IMU Yaw (deg)", "t": 71.2, "yaw": -68.8}, {"ys": "IMU Yaw (deg)", "t": 80, "yaw": -68.6}, {"ys": "IMU Yaw (deg)", "t": 90.1, "yaw": -68.5}, {"ys": "IMU Yaw (deg)", "t": 90.9, "yaw": -61}, {"ys": "IMU Yaw (deg)", "t": 92.3, "yaw": -60.5}, {"ys": "IMU Yaw (deg)", "t": 93.1, "yaw": -55.9}, {"ys": "IMU Yaw (deg)", "t": 94.3, "yaw": -55.5}, {"ys": "IMU Yaw (deg)", "t": 98.8, "yaw": -55.5}, {"ys": "IMU Yaw (deg)", "t": 99.5, "yaw": -45.2}, {"ys": "IMU Yaw (deg)", "t": 100.1, "yaw": -34.2}, {"ys": "IMU Yaw (deg)", "t": 100.8, "yaw": -30.1}, {"ys": "IMU Yaw (deg)", "t": 101.7, "yaw": -30.5}, {"ys": "IMU Yaw (deg)", "t": 102.9, "yaw": -17.1}, {"ys": "IMU Yaw (deg)", "t": 104.5, "yaw": -9.3}, {"ys": "IMU Yaw (deg)", "t": 105.6, "yaw": -21.9}, {"ys": "IMU Yaw (deg)", "t": 106.8, "yaw": -37}, {"ys": "IMU Yaw (deg)", "t": 107.7, "yaw": -35.6}, {"ys": "IMU Yaw (deg)", "t": 109.0, "yaw": -27.4}, {"ys": "IMU Yaw (deg)", "t": 110.4, "yaw": -26.7}, {"ys": "IMU Yaw (deg)", "t": 111.4, "yaw": -21.2}, {"ys": "IMU Yaw (deg)", "t": 112.8, "yaw": -24.7}, {"ys": "IMU Yaw (deg)", "t": 113.8, "yaw": -32.9}, {"ys": "IMU Yaw (deg)", "t": 114.9, "yaw": -47.9}, {"ys": "IMU Yaw (deg)", "t": 116.1, "yaw": -60.7}, {"ys": "IMU Yaw (deg)", "t": 117.5, "yaw": -50.7}, {"ys": "IMU Yaw (deg)", "t": 118.4, "yaw": -61.6}, {"ys": "IMU Yaw (deg)", "t": 119.3, "yaw": -66.4}, {"ys": "IMU Yaw (deg)", "t": 120.7, "yaw": -56.2}, {"ys": "IMU Yaw (deg)", "t": 121.4, "yaw": -57.5}, {"ys": "IMU Yaw (deg)", "t": 122.7, "yaw": -42.5}, {"ys": "IMU Yaw (deg)", "t": 123.8, "yaw": -38.8}, {"ys": "IMU Yaw (deg)", "t": 125.1, "yaw": -39.7}, {"ys": "IMU Yaw (deg)", "t": 126.5, "yaw": -38.1}, {"ys": "IMU Yaw (deg)", "t": 127.9, "yaw": -45.2}, {"ys": "IMU Yaw (deg)", "t": 129.1, "yaw": -47.9}, {"ys": "IMU Yaw (deg)", "t": 130.3, "yaw": -45.9}, {"ys": "IMU Yaw (deg)", "t": 131.6, "yaw": -39.7}, {"ys": "IMU Yaw (deg)", "t": 132.8, "yaw": -32.2}, {"ys": "IMU Yaw (deg)", "t": 133.9, "yaw": -25.3}, {"ys": "IMU Yaw (deg)", "t": 134.7, "yaw": -26.7}, {"ys": "IMU Yaw (deg)", "t": 135.8, "yaw": -42.5}, {"ys": "IMU Yaw (deg)", "t": 137.1, "yaw": -60.3}, {"ys": "IMU Yaw (deg)", "t": 138.6, "yaw": -73.7}, {"ys": "IMU Yaw (deg)", "t": 139.9, "yaw": -67.1}, {"ys": "IMU Yaw (deg)", "t": 141.2, "yaw": -60.5}, {"ys": "IMU Yaw (deg)", "t": 142.3, "yaw": -52.7}, {"ys": "IMU Yaw (deg)", "t": 143.8, "yaw": -47.9}, {"ys": "IMU Yaw (deg)", "t": 145.0, "yaw": -52.7}, {"ys": "IMU Yaw (deg)", "t": 146.4, "yaw": -54.5}, {"ys": "IMU Yaw (deg)", "t": 147.7, "yaw": -52.7}, {"ys": "IMU Yaw (deg)", "t": 149.1, "yaw": -47.3}, {"ys": "IMU Yaw (deg)", "t": 150.5, "yaw": -38.4}, {"ys": "IMU Yaw (deg)", "t": 151.8, "yaw": -30.1}, {"ys": "IMU Yaw (deg)", "t": 153.4, "yaw": -22.9}, {"ys": "IMU Yaw (deg)", "t": 154.2, "yaw": -26}, {"ys": "IMU Yaw (deg)", "t": 155.3, "yaw": -30.1}, {"ys": "IMU Yaw (deg)", "t": 157.0, "yaw": -32.9}, {"ys": "IMU Yaw (deg)", "t": 158.0, "yaw": -39}, {"ys": "IMU Yaw (deg)", "t": 159.4, "yaw": -44.5}, {"ys": "IMU Yaw (deg)", "t": 161.1, "yaw": -46.8}, {"ys": "IMU Yaw (deg)", "t": 163.5, "yaw": -47.7}, {"ys": "IMU Yaw (deg)", "t": 165.5, "yaw": -45.9}, {"ys": "IMU Yaw (deg)", "t": 168.3, "yaw": -44.8}, {"ys": "IMU Yaw (deg)", "t": 170.7, "yaw": -46.6}, {"ys": "IMU Yaw (deg)", "t": 173.4, "yaw": -45.2}, {"ys": "IMU Yaw (deg)", "t": 175.8, "yaw": -45.9}, {"ys": "IMU Yaw (deg)", "t": 178.2, "yaw": -45.6}, {"ys": "IMU Yaw (deg)", "t": 180.6, "yaw": -46.3}
    ]
  },
  "hconcat": [
    {
      "title": {"text": "(a)", "orient": "bottom", "fontSize": 64.3, "fontWeight": "bold", "offset": 258, "dx": 17.5},
      "spacing": 99.3,
      "vconcat": [
        {
          "width": 1787.7,
          "height": 2,
          "view": {"stroke": null},
          "data": {"values": []},
          "mark": {"type": "point", "opacity": 0}
        },
        {
          "width": 1787.7,
          "height": 1221,
          "title": {"text": "SLAM vs GPS Path under Obstacle Distribution", "fontSize": 53.6, "offset": -13.7},
          "encoding": {
            "x": {"field": "x", "type": "quantitative", "scale": {"domain": [-20, 30], "nice": false, "zero": false}, "axis": {"values": [-20, -15, -10, -5, 0, 5, 10, 15, 20, 25, 30], "title": "X Position (m)", "titleFontSize": 44.8, "labelFontSize": 40.9, "labelPadding": 6.8, "titlePadding": 11.7, "labelExpr": "replace(datum.label, '\u2212', '-')"}},
            "y": {"field": "y", "type": "quantitative", "scale": {"domain": [-1.7, 30], "nice": false, "zero": false}, "axis": {"values": [0, 5, 10, 15, 20, 25, 30], "title": "Y Position (m)", "titleFontSize": 44.8, "labelFontSize": 40.9, "labelPadding": 10.7, "titlePadding": 14.6}}
          },
          "layer": [
            {
              "data": {"name": "paths"},
              "transform": [{"filter": "datum.series === 'GPS Path'"}],
              "mark": {"type": "line", "strokeWidth": 5.4},
              "encoding": {
                "order": {"field": "k", "type": "quantitative"},
                "color": {"field": "series", "type": "nominal",
                  "scale": {"domain": ["GPS Path", "SLAM Path (Best Angle)", "SLAM Path (Initial Angle)", "Cylinder", "Small Cube", "Big Cube"], "range": ["#0000ff", "#008000", "#ffa500", "#d4d4d4", "#b2d8b2", "#b0b0fe"]},
                  "legend": {
                    "orient": "none", "legendX": 1217, "legendY": 992.2, "title": null,
                    "labelFontSize": 38.9, "padding": 12.7, "rowPadding": 4.9, "gridAlign": "all",
                    "symbolSize": 7012, "symbolOffset": 9.7, "labelOffset": 50.6, "symbolType": "stroke",
                    "encode": {
                      "legend": {"update": {"strokeWidth": {"value": 1.9}}},
                      "symbols": {"update": {
                        "shape": {"signal": "datum.value === 'Cylinder' ? 'circle' : (datum.value === 'Small Cube' || datum.value === 'Big Cube') ? 'square' : 'stroke'"},
                        "size": {"signal": "datum.value === 'Big Cube' ? 3081 : (datum.value === 'Small Cube' || datum.value === 'Cylinder') ? 806 : 7012"},
                        "fill": {"signal": "datum.value === 'Big Cube' ? '#7777ff' : datum.value === 'Small Cube' ? '#7fbf7f' : datum.value === 'Cylinder' ? '#bfbfbf' : 'transparent'"},
                        "stroke": {"signal": "datum.value === 'GPS Path' ? '#0000ff' : datum.value === 'SLAM Path (Best Angle)' ? '#008000' : datum.value === 'SLAM Path (Initial Angle)' ? '#ffa500' : 'transparent'"},
                        "strokeDash": {"signal": "(datum.value === 'SLAM Path (Best Angle)' || datum.value === 'SLAM Path (Initial Angle)') ? [21.4, 9.7] : [1, 0]"},
                        "strokeWidth": {"signal": "(datum.value === 'Cylinder' || datum.value === 'Small Cube' || datum.value === 'Big Cube') ? 0 : 4.9"},
                        "opacity": {"value": 1}
                      }}
                    }
                  }
                }
              }
            },
            {
              "data": {"name": "paths"},
              "transform": [{"filter": "datum.series === 'SLAM Path (Best Angle)'"}],
              "mark": {"type": "line", "strokeWidth": 5.8, "strokeDash": [21.4, 9.7]},
              "encoding": {"order": {"field": "k", "type": "quantitative"}, "color": {"field": "series", "type": "nominal"}}
            },
            {
              "data": {"name": "paths"},
              "transform": [{"filter": "datum.series === 'SLAM Path (Initial Angle)'"}],
              "mark": {"type": "line", "strokeWidth": 5.8, "strokeDash": [21.4, 9.7]},
              "encoding": {"order": {"field": "k", "type": "quantitative"}, "color": {"field": "series", "type": "nominal"}}
            },
            {
              "data": {"name": "obstacles"},
              "transform": [{"filter": "datum.series === 'Cylinder'"}],
              "mark": {"type": "point", "filled": true, "opacity": 1, "strokeWidth": 0, "size": 5932, "shape": "M0,-1A0.928,1,0,1,1,0,1A0.928,1,0,1,1,0,-1Z"},
              "encoding": {"color": {"field": "series", "type": "nominal"}}
            },
            {
              "data": {"name": "obstacles"},
              "transform": [{"filter": "datum.series === 'Small Cube'"}],
              "mark": {"type": "point", "filled": true, "opacity": 1, "strokeWidth": 0, "size": 1483, "shape": "M-0.928,-1L0.928,-1L0.928,1L-0.928,1Z"},
              "encoding": {"color": {"field": "series", "type": "nominal"}}
            },
            {
              "data": {"name": "obstacles"},
              "transform": [{"filter": "datum.series === 'Big Cube'"}],
              "mark": {"type": "point", "filled": true, "opacity": 1, "strokeWidth": 0, "size": 5932, "shape": "M-0.928,-1L0.928,-1L0.928,1L-0.928,1Z"},
              "encoding": {"color": {"field": "series", "type": "nominal"}}
            }
          ]
        }
      ]
    },
    {
      "spacing": 71.1,
      "resolve": {"scale": {"color": "independent"}, "legend": {"color": "independent"}},
      "vconcat": [
        {
          "title": {"text": "(b)", "orient": "bottom", "fontSize": 64.3, "fontWeight": "bold", "offset": 104.2, "dx": 14.6},
          "vconcat": [
            {
              "width": 1940.6,
              "height": 599.8,
              "title": {"text": "SLAM Localization Error Over Time", "fontSize": 49.7, "offset": -9.7},
              "data": {"name": "err"},
              "mark": {"type": "line", "strokeWidth": 2.9},
              "encoding": {
                "x": {"field": "t", "type": "quantitative", "scale": {"domain": [-9.17, 189.5], "nice": false, "zero": false}, "axis": {"values": [0, 25, 50, 75, 100, 125, 150, 175], "title": "Time (s)", "titleFontSize": 40.9, "labelFontSize": 38.9, "labelPadding": 9.7, "titlePadding": 6.8}},
                "y": {"field": "e", "type": "quantitative", "scale": {"domain": [0, 3], "nice": false}, "axis": {"values": [0, 0.5, 1, 1.5, 2, 2.5, 3], "format": ".1f", "title": "Localization Error (m)", "titleFontSize": 40.9, "labelFontSize": 38.9, "titlePadding": 19.5}},
                "color": {"field": "es", "type": "nominal", "scale": {"domain": ["Best Angle Error", "Initial Angle Error"], "range": ["#008000", "#ffa500"]},
                  "legend": {"orient": "none", "legendX": 1459.6, "legendY": 21.4, "title": null, "labelFontSize": 40.9, "padding": 11.7, "rowPadding": 19.5, "symbolType": "stroke", "symbolSize": 7510, "symbolStrokeWidth": 2.9, "labelOffset": 34.1}}
              }
            }
          ]
        },
        {
          "title": {"text": "(c)", "orient": "bottom", "fontSize": 64.3, "fontWeight": "bold", "offset": 94.4, "dx": 31.2},
          "vconcat": [
            {
              "width": 1926,
              "height": 579.4,
              "title": {"text": "IMU Yaw Over Time", "fontSize": 48.7, "offset": 4.9},
              "data": {"name": "yaw"},
              "mark": {"type": "line", "strokeWidth": 2.9},
              "encoding": {
                "x": {"field": "t", "type": "quantitative", "scale": {"domain": [-13.02, 189.77], "nice": false, "zero": false}, "axis": {"values": [0, 25, 50, 75, 100, 125, 150, 175], "title": "Time (s)", "titleFontSize": 40.9, "labelFontSize": 38.9, "labelPadding": 9.7, "titlePadding": 6.8}},
                "y": {"field": "yaw", "type": "quantitative", "scale": {"domain": [-115.95, 5.73], "nice": false, "zero": false}, "axis": {"values": [-100, -80, -60, -40, -20, 0], "title": "Yaw (°)", "titleFontSize": 40.9, "labelFontSize": 38.9, "titlePadding": 3.9, "labelExpr": "replace(datum.label, '\u2212', '-')"}},
                "color": {"field": "ys", "type": "nominal", "scale": {"domain": ["IMU Yaw (deg)"], "range": ["#008080"]},
                  "legend": {"orient": "none", "legendX": 1495.6, "legendY": 19.5, "title": null, "labelFontSize": 40.9, "padding": 11.7, "symbolType": "stroke", "symbolSize": 7510, "symbolStrokeWidth": 2.9, "labelOffset": 33.1}}
              }
            }
          ]
        }
      ]
    }
  ]
}
